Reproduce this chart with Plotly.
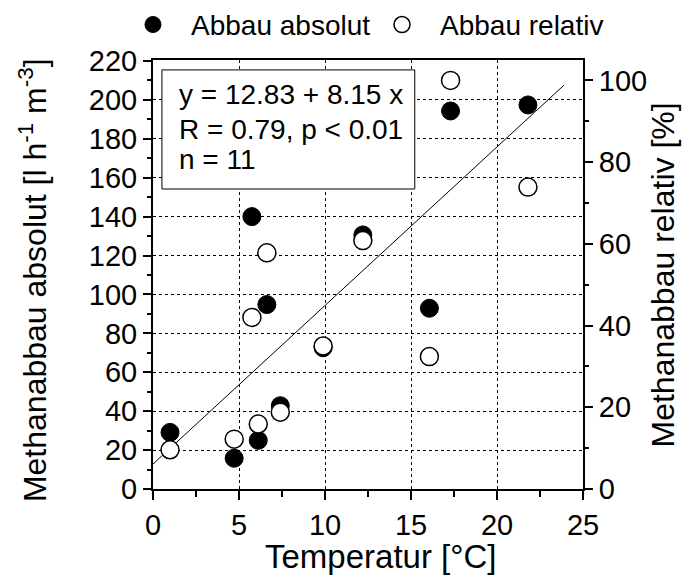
import plotly.graph_objects as go

# ---- data ----
temperatur = [0.99, 4.72, 5.75, 6.12, 6.62, 7.40, 9.89, 12.20, 16.07, 17.30, 21.80]
abbau_absolut = [29.1, 15.8, 140.0, 25.0, 94.8, 42.8, 72.6, 130.6, 92.9, 194.3, 197.4]
abbau_relativ = [9.6, 12.2, 42.0, 15.9, 57.8, 18.8, 35.0, 60.8, 32.4, 100.0, 73.9]

fit_intercept = 12.83
fit_slope = 8.15
fit_x = [0.0, 23.9]
fit_y = [fit_intercept + fit_slope * x for x in fit_x]

x_ticks = [0, 5, 10, 15, 20, 25]
y_left_ticks = list(range(0, 221, 20))
y_right_ticks = [0, 20, 40, 60, 80, 100]

FONT = "Liberation Sans, Arial, sans-serif"
TICK_SIZE = 29

fig = go.Figure()

fig.add_trace(go.Scatter(
    x=fit_x, y=fit_y, mode="lines",
    line=dict(color="black", width=1),
    showlegend=False, hoverinfo="skip", yaxis="y"))

fig.add_trace(go.Scatter(
    x=temperatur, y=abbau_absolut, mode="markers", name="Abbau absolut",
    marker=dict(symbol="circle", size=18, color="black",
                line=dict(color="black", width=1)),
    yaxis="y", legend="legend"))

fig.add_trace(go.Scatter(
    x=temperatur, y=abbau_relativ, mode="markers", name="Abbau relativ",
    marker=dict(symbol="circle", size=18, color="white",
                line=dict(color="black", width=1.5)),
    yaxis="y2", legend="legend2"))

leg_common = dict(orientation="h", xanchor="left", yanchor="middle",
                  itemwidth=66, font=dict(size=28), bgcolor="rgba(0,0,0,0)",
                  borderwidth=0)

# the page adds an 8px body margin; margins compensate so the plot area
# lands at x 153-583, y 60-489 in the screenshot
fig.update_layout(
    width=696, height=577,
    margin=dict(l=145, r=121, t=52, b=96, autoexpand=False),
    paper_bgcolor="white", plot_bgcolor="white",
    font=dict(family=FONT, size=28, color="black"),
    xaxis=dict(
        range=[0, 25], tickvals=x_ticks, ticks="outside", ticklen=9, tickwidth=1.5,
        tickcolor="black",
        minor=dict(dtick=2.5, tick0=0, ticks="outside", ticklen=6, tickwidth=1.5,
                   tickcolor="black", showgrid=False),
        showline=True, linecolor="black", linewidth=2, mirror=True,
        showgrid=True, gridcolor="black", gridwidth=1, griddash="3px,3px",
        zeroline=False, tickfont=dict(size=TICK_SIZE)),
    yaxis=dict(
        range=[0, 220.5], tickvals=y_left_ticks, ticks="outside", ticklen=8, tickwidth=1.5,
        tickcolor="black",
        minor=dict(dtick=10, tick0=0, ticks="outside", ticklen=4, tickwidth=1.5,
                   tickcolor="black", showgrid=False),
        showline=True, linecolor="black", linewidth=2,
        showgrid=True, gridcolor="black", gridwidth=1, griddash="3px,3px",
        zeroline=False, tickfont=dict(size=TICK_SIZE)),
    yaxis2=dict(
        range=[0, 105], tickvals=y_right_ticks, overlaying="y", side="right",
        ticks="outside", ticklen=8, tickwidth=1.5, tickcolor="black",
        minor=dict(dtick=10, tick0=0, ticks="outside", ticklen=4, tickwidth=1.5,
                   tickcolor="black", showgrid=False),
        showline=True, linecolor="black", linewidth=2,
        showgrid=False, zeroline=False, tickfont=dict(size=TICK_SIZE)),
    legend=dict(x=-0.0884, y=1.082, **leg_common),
    legend2=dict(x=0.4907, y=1.082, **leg_common),
)

# Regression box
fig.add_shape(type="rect", xref="x", yref="y", x0=0.52, x1=15.22, y0=154.2, y1=215.4,
              line=dict(color="black", width=1), fillcolor="white", layer="above")

box_lines = ["y = 12.83 + 8.15 x", "R = 0.79, p < 0.01", "n = 11"]
box_y = [202.6, 185.0, 169.2]
for txt, yy in zip(box_lines, box_y):
    fig.add_annotation(text=txt, xref="x", yref="y", x=1.38, y=yy,
                       xanchor="left", yanchor="middle", showarrow=False,
                       font=dict(size=28))

# Axis titles
fig.add_annotation(text="Temperatur [°C]", xref="paper", yref="paper",
                   x=0.528, y=-0.158, xanchor="center", yanchor="middle",
                   showarrow=False, font=dict(size=33))
fig.add_annotation(text="Methanabbau absolut [l h<sup>-1</sup> m<sup>-3</sup>]",
                   xref="paper", yref="paper", x=-0.279, y=0.487,
                   xanchor="center", yanchor="middle", textangle=-90,
                   showarrow=False, font=dict(size=32))
fig.add_annotation(text="Methanabbau relativ [%]", xref="paper", yref="paper",
                   x=1.186, y=0.5, xanchor="center", yanchor="middle", textangle=-90,
                   showarrow=False, font=dict(size=32))

fig.write_html("out.html")
